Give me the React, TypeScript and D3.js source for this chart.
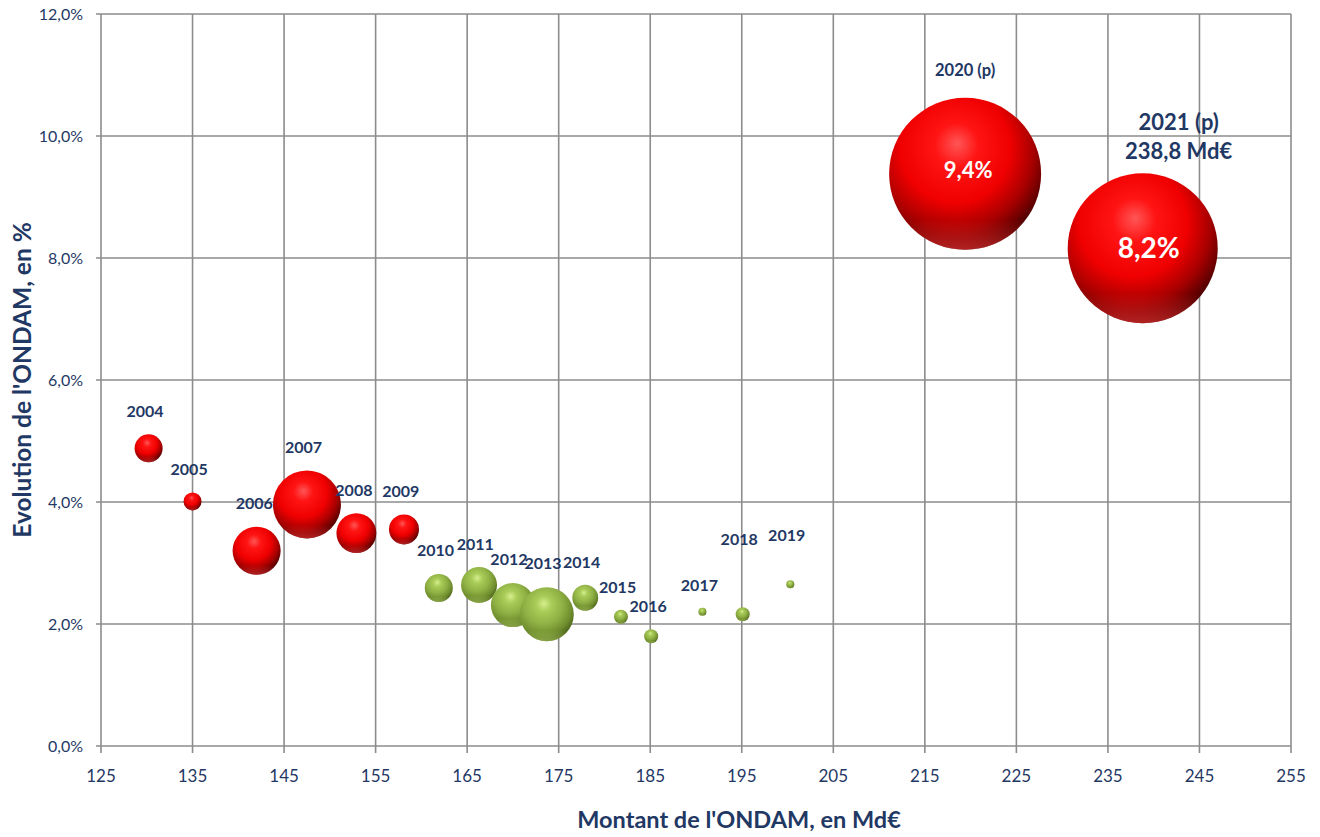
import React from "react";
import * as d3 from "d3";

// ---- data ----
const years = ["2004","2005","2006","2007","2008","2009","2010","2011","2012","2013","2014","2015","2016","2017","2018","2019","2020 (p)","2021 (p)"];
const montant = [130.2, 135.0, 142.0, 147.5, 152.9, 158.1, 161.9, 166.3, 170.0, 173.7, 177.9, 181.8, 185.1, 190.7, 195.1, 200.3, 219.4, 238.8];
const evolution = [4.88, 4.01, 3.20, 3.96, 3.49, 3.55, 2.59, 2.64, 2.31, 2.16, 2.43, 2.12, 1.80, 2.20, 2.16, 2.65, 9.38, 8.16];
const taille = [3.4, 1.4, 10.0, 20.0, 6.9, 3.9, 3.4, 5.6, 8.4, 12.6, 2.9, 0.85, 0.85, 0.28, 0.85, 0.28, 100, 97.4];
const groupe = ["r","r","r","r","r","r","g","g","g","g","g","g","g","g","g","g","r","r"];
const valueLabels = ["","","","","","","","","","","","","","","","","9,4%","8,2%"];
const label2021Line2 = "238,8 Md€";
const xTicks = [125, 135, 145, 155, 165, 175, 185, 195, 205, 215, 225, 235, 245, 255];
const yTicks = [0, 2, 4, 6, 8, 10, 12];
const xTitle = "Montant de l'ONDAM, en Md€";
const yTitle = "Evolution de l'ONDAM, en %";

// label offsets (layout, px)
const labelDx = [-3.6,-3.4,-2.4,-3.5,-2.5,-3.3,-3.3,-3.7,-4,-3.7,-3.6,-3.3,-3,-3,-3.5,-3.6,0,36];
const labelDy = [-36.6,-32.3,-47.7,-56.8,-42.8,-37.6,-37.2,-40.5,-45.5,-50.5,-35.5,-29.2,-30.1,-26.2,-74.8,-49.1,-103.5,-126];

const W = 1320, H = 837;
const TXT = "#1f3864";
const GRID = "#8c8c8c";
const FONT = "Lato, 'Open Sans', sans-serif";

export default function App() {
  const x = d3.scaleLinear().domain([125, 255]).range([101, 1291]);
  const y = d3.scaleLinear().domain([0, 12]).range([746, 14]);
  const r = d3.scaleSqrt().domain([0, 100]).range([0, 76]);
  const fmtY = (v: number) => d3.format(".1f")(v).replace(".", ",") + "%";

  return (
    <svg width={W} height={H} style={{ position: "absolute", left: 0, top: 0, background: "#fff" }} fontFamily={FONT}>
      <defs>
        <radialGradient id="gr" cx="0.42" cy="0.36" r="0.72" fx="0.45" fy="0.3">
          <stop offset="0" stopColor="#ff5656" />
          <stop offset="0.2" stopColor="#ff1414" />
          <stop offset="0.5" stopColor="#f00000" />
          <stop offset="0.72" stopColor="#a80000" />
          <stop offset="0.9" stopColor="#520000" />
          <stop offset="1" stopColor="#380000" />
        </radialGradient>
        <radialGradient id="gg" cx="0.42" cy="0.36" r="0.72" fx="0.45" fy="0.3">
          <stop offset="0" stopColor="#d6ee8e" />
          <stop offset="0.2" stopColor="#a9cc58" />
          <stop offset="0.5" stopColor="#8fb044" />
          <stop offset="0.75" stopColor="#6f8d2e" />
          <stop offset="0.92" stopColor="#4a6118" />
          <stop offset="1" stopColor="#3a4e10" />
        </radialGradient>
        <linearGradient id="rimr" x1="0" y1="0" x2="0" y2="1">
          <stop offset="0.8" stopColor="#ff3030" stopOpacity="0" />
          <stop offset="1" stopColor="#ff4040" stopOpacity="0.55" />
        </linearGradient>
        <linearGradient id="rimg" x1="0" y1="0" x2="0" y2="1">
          <stop offset="0.8" stopColor="#c0e070" stopOpacity="0" />
          <stop offset="1" stopColor="#c0e070" stopOpacity="0.5" />
        </linearGradient>
      </defs>

      {/* grid */}
      {xTicks.map((t) => (
        <line key={"gx" + t} x1={x(t)} x2={x(t)} y1={y(12)} y2={y(0) + 7} stroke={GRID} strokeWidth={1.6} />
      ))}
      {yTicks.map((t) => (
        <line key={"gy" + t} x1={x(125) - 5} x2={x(255)} y1={y(t)} y2={y(t)} stroke={GRID} strokeWidth={1.6} />
      ))}

      {/* tick labels */}
      {xTicks.map((t) => (
        <text key={"tx" + t} x={x(t)} y={782} textAnchor="middle" fontSize={17} fill={TXT}>{t}</text>
      ))}
      {yTicks.map((t) => (
        <text key={"ty" + t} x={83} y={y(t)} dy="0.35em" textAnchor="end" fontSize={16} fill={TXT}>{fmtY(t)}</text>
      ))}

      {/* bubbles */}
      {years.map((yr, i) => {
        const cx = x(montant[i]), cy = y(evolution[i]), rr = r(taille[i]);
        return (
          <g key={"b" + yr}>
            <circle cx={cx} cy={cy} r={rr} fill={groupe[i] === "r" ? "url(#gr)" : "url(#gg)"} />
            <circle cx={cx} cy={cy} r={rr} fill={groupe[i] === "r" ? "url(#rimr)" : "url(#rimg)"} />
          </g>
        );
      })}

      {/* year labels */}
      {years.map((yr, i) => {
        const cx = x(montant[i]), cy = y(evolution[i]);
        if (yr === "2021 (p)") {
          return (
            <g key={"l" + yr}>
              <text x={cx + labelDx[i]} y={cy + labelDy[i]} dy="0.35em" textAnchor="middle" fontWeight="bold" fontSize={22} fill={TXT}>{yr}</text>
              <text x={cx + labelDx[i]} y={cy + labelDy[i] + 29} dy="0.35em" textAnchor="middle" fontWeight="bold" fontSize={22} fill={TXT}>{label2021Line2}</text>
            </g>
          );
        }
        return (
          <text key={"l" + yr} x={cx + labelDx[i]} y={cy + labelDy[i]} dy="0.35em" textAnchor="middle" fontWeight="bold"
            fontSize={yr === "2020 (p)" ? 16.5 : 16} fill={TXT}>{yr}</text>
        );
      })}

      {/* value labels inside */}
      {years.map((yr, i) => valueLabels[i] ? (
        <text key={"v" + yr} x={x(montant[i]) + (i === 17 ? 6 : 3)} y={y(evolution[i]) + (i === 17 ? 0 : -4)} dy="0.35em"
          textAnchor="middle" fontWeight="bold" fontSize={i === 17 ? 28 : 22} fill="#fff">{valueLabels[i]}</text>
      ) : null)}

      {/* axis titles */}
      <text x={739} y={828} textAnchor="middle" fontWeight="bold" fontSize={23.5} fill={TXT}>{xTitle}</text>
      <text transform="translate(31,380) rotate(-90)" textAnchor="middle" fontWeight="bold" fontSize={24.5} fill={TXT}>{yTitle}</text>
    </svg>
  );
}
